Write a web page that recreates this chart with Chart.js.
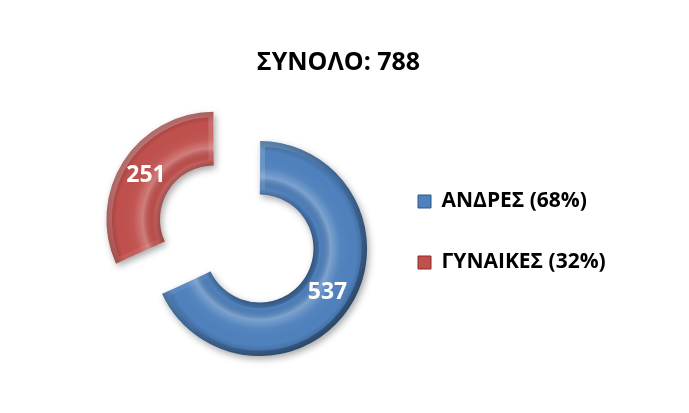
<!DOCTYPE html>
<html>
<head>
<meta charset="utf-8">
<script src="https://cdn.jsdelivr.net/npm/chart.js@4.4.0/dist/chart.umd.min.js"></script>
<style>
  html, body { margin: 0; padding: 0; background: #fff; }
  #box { width: 689px; height: 413px; }
</style>
</head>
<body>
<div id="box"><canvas id="genderChart" width="689" height="413"></canvas></div>
<script>
// chart data
var categories = ['ΑΝΔΡΕΣ', 'ΓΥΝΑΙΚΕΣ'];
var values = [537, 251];
var colors = ['#4F81BD', '#C0504D'];
var edgeColors = ['#2C5687', '#8C2B29'];
var titlePrefix = 'ΣΥΝΟΛΟ: ';

var total = values.reduce(function(a, b) { return a + b; }, 0);
var FONT = "'Open Sans', 'Noto Sans', sans-serif";

function legendText(i) {
    return categories[i] + ' (' + Math.round(values[i] / total * 100) + '%)';
}

// where an arc is really drawn (Chart.js shifts exploded slices inside ArcElement.draw)
function arcGeom(arc) {
    var p = arc.getProps(['x', 'y', 'startAngle', 'endAngle', 'innerRadius', 'outerRadius', 'circumference'], true);
    var off = (arc.options.offset || 0) / 4;
    var half = (p.startAngle + p.endAngle) / 2;
    var fix = 1 - Math.sin(Math.min(Math.PI, p.circumference || 0));
    var ro = off * fix;
    return {
        x: p.x + Math.cos(half) * off,
        y: p.y + Math.sin(half) * off,
        start: p.startAngle,
        end: p.endAngle,
        half: half,
        inner: p.innerRadius + ro,
        outer: p.outerRadius + ro
    };
}

var bevelPlugin = {
    id: 'bevel',
    // legend box is kept narrow for the layout, let its text run to the edge
    afterLayout: function(chart) {
        var lg = chart.legend;
        lg.right = chart.width;
        lg.width = lg.right - lg.left;
    },
    beforeDatasetsDraw: function(chart) {
        var c = chart.ctx;
        c.save();
        c.shadowColor = 'rgba(0,0,0,0.35)';
        c.shadowBlur = 7;
        c.shadowOffsetX = 2;
        c.shadowOffsetY = 3;
    },
    afterDatasetsDraw: function(chart) {
        var c = chart.ctx;
        c.restore();
        chart.getDatasetMeta(0).data.forEach(function(arc, i) {
            var g = arcGeom(arc);
            c.save();
            c.beginPath();
            c.arc(g.x, g.y, g.outer, g.start, g.end);
            c.arc(g.x, g.y, g.inner, g.end, g.start, true);
            c.closePath();
            c.clip();
            // rounded ring look
            var grad = c.createRadialGradient(g.x, g.y, g.inner, g.x, g.y, g.outer);
            grad.addColorStop(0, 'rgba(0,0,0,0.25)');
            grad.addColorStop(0.12, 'rgba(0,0,0,0)');
            grad.addColorStop(0.32, 'rgba(255,255,255,0.26)');
            grad.addColorStop(0.5, 'rgba(255,255,255,0.04)');
            grad.addColorStop(0.8, 'rgba(0,0,0,0)');
            grad.addColorStop(1, 'rgba(0,0,0,0.25)');
            c.fillStyle = grad;
            c.fill();
            // bevelled rim, lit from the upper left
            var lit = c.createLinearGradient(g.x - g.outer, g.y - g.outer, g.x + g.outer, g.y + g.outer);
            lit.addColorStop(0, 'rgba(255,255,255,0.35)');
            lit.addColorStop(0.5, 'rgba(255,255,255,0)');
            lit.addColorStop(0.55, 'rgba(0,0,0,0.05)');
            lit.addColorStop(1, 'rgba(0,0,0,0.4)');
            c.lineWidth = 11;
            c.lineJoin = 'miter';
            c.strokeStyle = lit;
            c.stroke();
            c.restore();

            // value label at the middle of the ring
            var r = (g.inner + g.outer) / 2;
            c.save();
            c.font = 'bold 23px ' + FONT;
            c.fillStyle = '#ffffff';
            c.textAlign = 'center';
            c.textBaseline = 'middle';
            c.fillText(String(values[i]), g.x + Math.cos(g.half) * r, g.y + Math.sin(g.half) * r);
            c.restore();
        });
    }
};

var ctx = document.getElementById('genderChart').getContext('2d');
var chart = new Chart(ctx, {
    type: 'doughnut',
    data: {
        labels: categories,
        datasets: [{
            data: values,
            backgroundColor: colors,
            borderWidth: 0,
            offset: [18.1, 198.3]
        }]
    },
    options: {
        responsive: false,
        animation: false,
        devicePixelRatio: 1,
        radius: 103,
        cutout: '48%',
        layout: {
            padding: { left: 133.4, right: 145.4, top: 0, bottom: 71.8 }
        },
        plugins: {
            tooltip: { enabled: false },
            title: {
                display: true,
                text: titlePrefix + total,
                color: '#000000',
                font: { family: FONT, size: 25, weight: 'bold' },
                padding: { top: 48, bottom: 73 }
            },
            legend: {
                display: true,
                position: 'right',
                fullSize: false,
                align: 'start',
                maxWidth: 165.6,
                labels: {
                    boxWidth: 13,
                    boxHeight: 13,
                    padding: 40,
                    color: '#000000',
                    font: { family: FONT, size: 21, weight: 'bold' },
                    generateLabels: function() {
                        return categories.map(function(name, i) {
                            return {
                                text: legendText(i),
                                fillStyle: colors[i],
                                strokeStyle: edgeColors[i],
                                lineWidth: 1,
                                hidden: false,
                                index: i
                            };
                        });
                    }
                }
            }
        }
    },
    plugins: [bevelPlugin]
});
</script>
</body>
</html>
